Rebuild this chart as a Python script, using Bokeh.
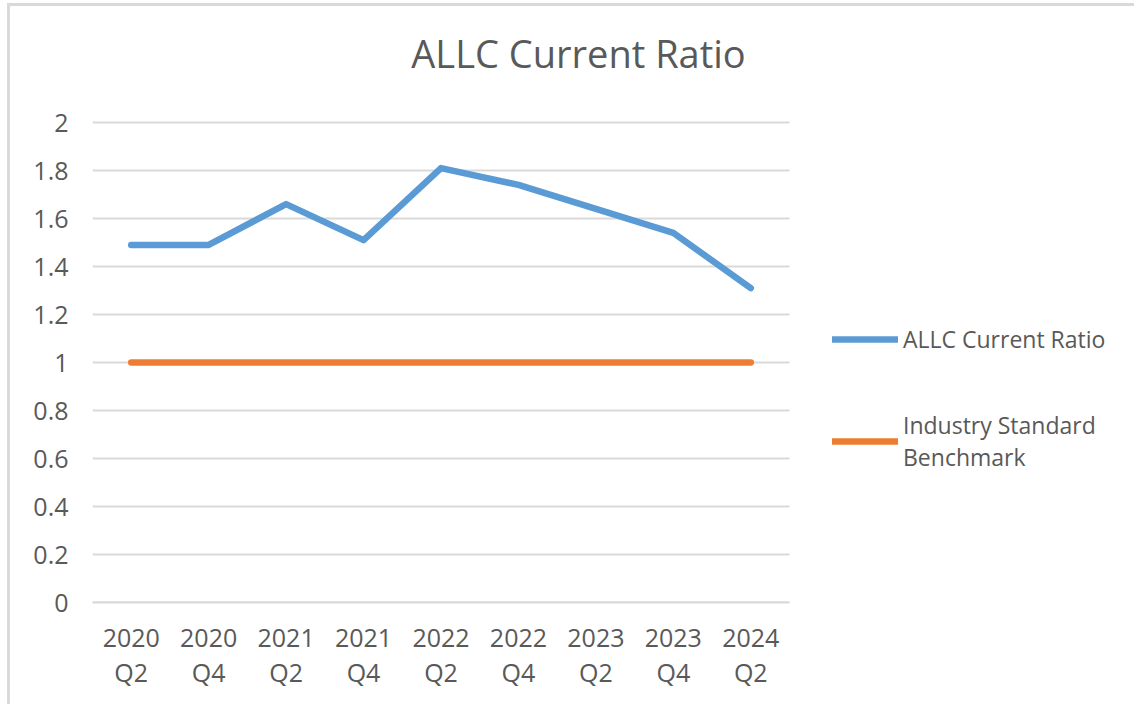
from bokeh.plotting import figure
from bokeh.models import Range1d, Label, Legend, LegendItem, FixedTicker
from bokeh.embed import file_html
from bokeh.resources import INLINE

# Reporting periods (year / quarter shown on two lines)
quarters = ["2020\nQ2", "2020\nQ4", "2021\nQ2", "2021\nQ4", "2022\nQ2",
            "2022\nQ4", "2023\nQ2", "2023\nQ4", "2024\nQ2"]
current_ratio = [1.49, 1.49, 1.66, 1.51, 1.81, 1.74, 1.64, 1.54, 1.31]
benchmark = [1.0, 1.0, 1.0, 1.0, 1.0, 1.0, 1.0, 1.0, 1.0]
y_ticks = [0, 0.2, 0.4, 0.6, 0.8, 1.0, 1.2, 1.4, 1.6, 1.8, 2.0]

FONT = "Open Sans"
TEXT = "#595959"
GRID = "#d9d9d9"
BLUE = "#5b9bd5"
ORANGE = "#ed7d31"

# layout (pixels)
CANVAS_W, CANVAS_H = 1127, 701
LEFT, BOTTOM = 82, 105
PLOT_AREA_W, PLOT_AREA_H = 697, 480   # gridded plot area
frame_w = CANVAS_W - LEFT             # frame runs on under legend and title
frame_h = CANVAS_H - BOTTOM

# one slot per quarter, centred on its index
idx = list(range(len(quarters)))
slot_px = PLOT_AREA_W / len(quarters)
x_lo = -0.5
x_hi = x_lo + frame_w / slot_px
area = (-0.5, len(quarters) - 0.5)
y_max = y_ticks[-1]
y_hi = y_max * frame_h / PLOT_AREA_H

p = figure(
    x_range=Range1d(x_lo, x_hi),
    y_range=Range1d(0, y_hi),
    width=CANVAS_W, height=CANVAS_H,
    min_border_left=LEFT, min_border_right=0,
    min_border_top=0, min_border_bottom=BOTTOM,
    output_backend="svg", toolbar_location=None,
)
p.styles = {
    "border-top": f"3px solid {GRID}",
    "border-left": f"3px solid {GRID}",
    "margin-left": "7px",
    "margin-top": "3px",
}
p.outline_line_color = None
p.background_fill_color = "white"
p.border_fill_color = "white"
p.xgrid.grid_line_color = None
p.ygrid.grid_line_color = None

# horizontal gridlines, limited to the plot area
p.segment(x0=[area[0]] * len(y_ticks), x1=[area[1]] * len(y_ticks),
          y0=y_ticks, y1=y_ticks, line_color=GRID, line_width=2,
          level="underlay")

p.yaxis.ticker = FixedTicker(ticks=y_ticks)
p.yaxis.major_label_overrides = {t: f"{t:g}" for t in y_ticks}
p.xaxis.ticker = FixedTicker(ticks=idx)
p.xaxis.major_label_overrides = {i: q for i, q in zip(idx, quarters)}
p.xaxis.bounds = area

# axes
for ax in (p.xaxis[0], p.yaxis[0]):
    ax.major_tick_line_color = None
    ax.minor_tick_line_color = None
    ax.major_tick_out = 0
    ax.major_tick_in = 0
    ax.major_label_text_font = FONT
    ax.major_label_text_font_size = "25px"
    ax.major_label_text_color = TEXT
p.yaxis.axis_line_color = None
p.yaxis.major_label_standoff = 24
p.xaxis.axis_line_color = GRID
p.xaxis.axis_line_width = 2
p.xaxis.major_label_standoff = 17
p.xaxis.major_label_text_line_height = 1.04

r_ratio = p.line(idx, current_ratio, line_color=BLUE, line_width=6.5,
                 line_cap="round", line_join="round")
r_bench = p.line(idx, benchmark, line_color=ORANGE, line_width=6.5,
                 line_cap="round", line_join="round")

legend = Legend(
    items=[LegendItem(label="ALLC Current Ratio", renderers=[r_ratio]),
           LegendItem(label="Industry Standard\nBenchmark", renderers=[r_bench])],
    location=(740, 129),
    orientation="vertical",
    glyph_width=66, glyph_height=20,
    label_standoff=5,
    spacing=54,
    padding=0, margin=0,
    border_line_color=None,
    background_fill_alpha=0,
    label_text_font=FONT,
    label_text_font_size="23px",
    label_text_color=TEXT,
)
p.add_layout(legend, "center")

# chart title, centred 486 px right of the plot area's left edge
title = Label(x=x_lo + 486 / slot_px, y=550 * y_max / PLOT_AREA_H,
              text="ALLC Current Ratio", text_align="center",
              text_baseline="alphabetic", text_font=FONT,
              text_font_size="38px", text_color=TEXT)
p.add_layout(title)

open("out.html", "w").write(file_html(p, INLINE))
